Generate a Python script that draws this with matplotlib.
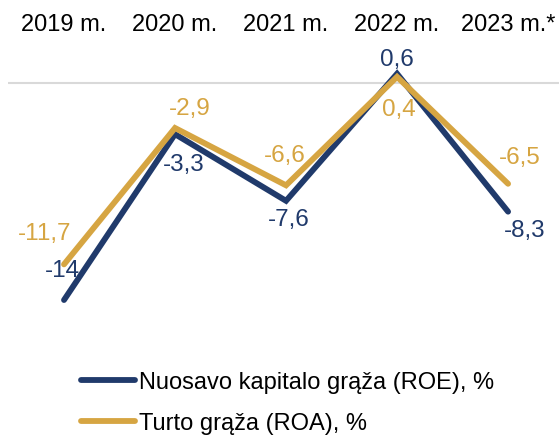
import matplotlib.pyplot as plt
import numpy as np

plt.rcParams['font.family'] = ['Liberation Sans', 'DejaVu Sans']

years = ['2019 m.', '2020 m.', '2021 m.', '2022 m.', '2023 m.*']
roe = [-14, -3.3, -7.6, 0.6, -8.3]
roa = [-11.7, -2.9, -6.6, 0.4, -6.5]
roe_txt = ['-14', '-3,3', '-7,6', '0,6', '-8,3']
roa_txt = ['-11,7', '-2,9', '-6,6', '0,4', '-6,5']

navy = '#203a6b'
gold = '#d6a542'
fs = 17.5

fig = plt.figure(figsize=(5.59, 4.39), dpi=100)
ax = fig.add_axes([0.0152, 0.2437, 0.993, 0.6355])

x = np.arange(len(years))
ax.axhline(0, color='#d9d9d9', lw=1.5, zorder=1)
ax.plot(x, roe, color=navy, lw=4.2, solid_capstyle='round', solid_joinstyle='miter',
        label='Nuosavo kapitalo grąža (ROE), %', zorder=2)
ax.plot(x, roa, color=gold, lw=4.2, solid_capstyle='round', solid_joinstyle='miter',
        label='Turto grąža (ROA), %', zorder=3)

# label offsets in pixels
roe_off = [(-2, 30), (9, -30), (3, -18), (0, 15), (17, -18)]
roa_off = [(-19, 31), (15, 20), (-1, 30), (2, -32), (12, 27)]
for i in range(len(x)):
    ax.annotate(roe_txt[i], (x[i], roe[i]), xytext=roe_off[i], textcoords='offset pixels',
                ha='center', va='center', color=navy, fontsize=fs, zorder=5)
    ax.annotate(roa_txt[i], (x[i], roa[i]), xytext=roa_off[i], textcoords='offset pixels',
                ha='center', va='center', color=gold, fontsize=fs, zorder=5)

ax.set_xlim(-0.5, 4.5)
ax.set_ylim(-16, 2)
ax.set_xticks(x)
ax.set_xticklabels(years, fontsize=17)
ax.xaxis.tick_top()
ax.tick_params(axis='x', length=0, pad=12)
ax.set_yticks([])
for s in ax.spines.values():
    s.set_visible(False)

fig.legend(loc='center left', bbox_to_anchor=(0.128, 0.08), frameon=False,
           fontsize=17, handlelength=2.3, handletextpad=0.15, labelspacing=0.8,
           borderaxespad=0)

fig.savefig('out.png', dpi=100)
